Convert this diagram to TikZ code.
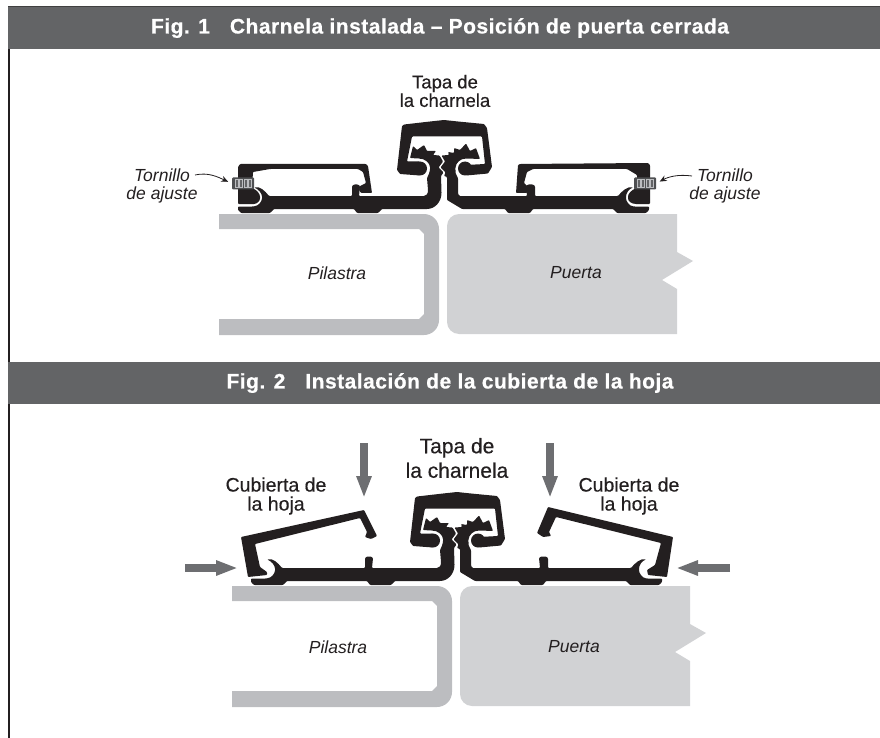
\documentclass[tikz,border=0pt]{standalone}
\usepackage{fontspec}
\setmainfont{Liberation Sans}
\newfontfamily\medfont[FakeBold=0.4]{Liberation Sans}
\newfontfamily\heavyfont[FakeBold=0.6,LetterSpace=2.3]{Liberation Sans Bold}
\usetikzlibrary{arrows.meta, positioning}
\definecolor{barcol}{HTML}{636466}
\definecolor{inkcol}{HTML}{231F20}
\definecolor{pilacol}{HTML}{BCBDC0}
\definecolor{doorcol}{HTML}{D1D2D4}
\definecolor{pushcol}{HTML}{6D6E71}
\tikzset{
  titlelabel/.style={text=white,inner sep=0pt,font=\heavyfont\fontsize{21}{22}\selectfont},
  partlabel/.style={text=inkcol,inner sep=0pt,align=center,font=\medfont\fontsize{18.5}{18.5}\selectfont},
  biglabel/.style={text=inkcol,inner sep=0pt,align=center,font=\medfont\fontsize{21}{24.5}\selectfont},
  coverlabel/.style={text=inkcol,inner sep=0pt,align=center,font=\medfont\fontsize{19.5}{19}\selectfont},
  thinlabel/.style={text=inkcol,inner sep=0pt,align=center,font=\itshape\fontsize{17.5}{18.5}\selectfont},
  profile/.style={fill=inkcol,rounded corners=0.8pt},
  screwbody/.style={fill=barcol!80!black,rounded corners=1pt,inner sep=0pt,minimum width=22pt,minimum height=12pt},
  thread/.style={draw=pilacol,fill=barcol,line width=0.5pt},
  pointer/.style={draw=inkcol,line width=0.8pt,-{Stealth[length=7pt,width=6pt]},shorten >=4pt},
  pushline/.style={draw=pushcol,line width=8pt,-{Triangle[length=22pt,width=14pt]}},
  hinge/.pic={
    % Hinge cap with its two knobs
    \fill[profile] (404,124.5) -- (430,121.5) -- (444,120) -- (458,121.5) -- (484,124) -- (487,128)
      -- (492,167) -- (488,173.5) -- (466,175.5) -- (466,165) -- (485,164) -- (482,136.5)
      -- (412,136.5) -- (407,161.5) -- (420,161.5) -- (420,175.5) -- (400,174) -- (397,170) -- (402,126) -- cycle;
    \fill[inkcol] (420,168.5) circle (7) (465,168.5) circle (7);
    % Left rail and gear
    \fill[profile] (238,206.5) -- (253,206.5) .. controls (259,206) and (262,201) .. (262,197.5)
      .. controls (262,193) and (258,189) .. (254,187.5) .. controls (260,186) and (265,191) .. (269,196)
      -- (352,196) -- (352,186) -- (354,184.5) -- (358,184.5) -- (360,186) -- (359,196) -- (423,196)
      .. controls (426,196) and (428,194) .. (428,190) -- (427,178)
      .. controls (428,176) and (430,172) .. (430,168) .. controls (430,163) and (425,158.5) .. (418,158.5)
      -- (410,158) -- (413,146) -- (417,150) -- (424,145) -- (427,151) -- (436,151) -- (433,155)
      -- (439.5,155.5) -- (443,161.5) -- (438.5,167.5) -- (443.5,172.5) -- (441,176) -- (441.5,192)
      .. controls (441.5,202) and (435,209) .. (426,209) -- (382,209) -- (378,213) -- (357,213)
      -- (354,209) -- (274,209) -- (270,213) -- (241,213) -- (238,210) -- cycle;
    % Right rail and gear
    \fill[profile] (649,206.5) -- (634,206.5) .. controls (629,206) and (626,201) .. (626,197.5)
      .. controls (626,193) and (629,189) .. (633,187.5) .. controls (628,186) and (622,191) .. (618,196)
      -- (535,196) -- (535,186) -- (533,184.5) -- (528,184.5) -- (526,186) -- (527,196) -- (461,196)
      .. controls (459,196) and (458,194) .. (458,192) -- (458,178)
      .. controls (456,175) and (455,172) .. (455.5,168) .. controls (456,163) and (460,158.5) .. (467,158.5)
      -- (480,159) -- (476,148) -- (470,151) -- (466,143.5) -- (460,150) -- (454,148) -- (454,153)
      -- (448,152) -- (449,155) -- (441.5,155.5) -- (445,161.5) -- (440.5,167.5) -- (445.5,172.5)
      -- (444,176) -- (447,177) -- (447,200) -- (462,209) -- (505,209) -- (508,213) -- (530,213)
      -- (533,209) -- (613,209) -- (617,213) -- (646,213) -- (649,210) -- cycle;
  }
}

\begin{document}
\begin{tikzpicture}[x=1pt,y=-1pt]
\useasboundingbox (0,0) rectangle (880,738);

% Draw frame line and title bars
\fill[inkcol] (8,7) rectangle (9.5,738);
\foreach \ya/\yb in {7/49,362/404}
    \fill[barcol] (8,\ya) rectangle (880,\yb);
\fill[black!75] (8,6.5) rectangle (880,7.5);
\node[titlelabel] (titleone) at (440,28) {Fig. 1\hspace{20pt}Charnela instalada – Posición de puerta cerrada};
\node[titlelabel] (titletwo) at (450,383) {Fig. 2\hspace{20pt}Instalación de la cubierta de la hoja};

% Draw jamb and door, both figures
\foreach \dx/\dy in {0/0,13/372} {
    \fill[pilacol,even odd rule] (219+\dx,214+\dy) -- (424+\dx,214+\dy) arc[start angle=90,end angle=0,radius=15pt]
       -- (439+\dx,320+\dy) arc[start angle=0,end angle=-90,radius=15pt] -- (219+\dx,335+\dy) -- (219+\dx,319+\dy)
       -- (419+\dx,319+\dy) -- (424+\dx,314+\dy) -- (424+\dx,234+\dy) -- (419+\dx,229+\dy) -- (219+\dx,229+\dy) -- cycle;
    \fill[doorcol] (677+\dx,214+\dy) -- (677+\dx,252+\dy) -- (693+\dx,261+\dy) -- (662+\dx,280+\dy) -- (677+\dx,289+\dy)
       -- (677+\dx,334+\dy) -- (459+\dx,334+\dy) arc[start angle=-90,end angle=-180,radius=12pt]
       -- (447+\dx,226+\dy) arc[start angle=180,end angle=90,radius=12pt] -- cycle;
}
\node[thinlabel] (pilaone) at (337,273) {Pilastra};
\node[thinlabel] (doorone) at (576,273) {Puerta};
\node[thinlabel] (pilatwo) at (338,647) {Pilastra};
\node[thinlabel] (doortwo) at (574,647) {Puerta};

% Draw hinge in both figures
\pic at (0,0) {hinge};
\pic at (13,372) {hinge};

% Leaf covers, fig. 1
\fill[profile] (238,167) -- (240,164) -- (366,164) -- (368,166) -- (372,193) -- (361,193) -- (359,190) -- (360,186)
   -- (366,183) -- (363,172) -- (358,169) -- (270,169) -- (253,172) -- (252,188)
   .. controls (257,190) and (260,194) .. (260,197.5) .. controls (260,201) and (257,204) .. (253,204) -- (238,204) -- cycle;
\fill[profile] (518,165) -- (520,164) -- (648,163) -- (650,165) -- (650,204) -- (637,204)
   .. controls (631,204) and (628,201) .. (628,197.5) .. controls (628,194) and (631,190) .. (637,188)
   -- (637,175) -- (627,169) -- (533,169) -- (527,172) -- (524,183) -- (528,187) -- (527,193) -- (516,193) -- cycle;

% Leaf covers, fig. 2
\fill[profile] (241,537) -- (364,510) -- (377,536) -- (371,539) -- (365,537) -- (367,532) -- (360,518) -- (255,544)
   -- (260,567) -- (267,572) -- (267,575) -- (248,577) -- cycle;
\fill[profile] (548,507) -- (673,537) -- (667,577) -- (648,575) -- (647,570) -- (655,565) -- (661,543) -- (556,517)
   -- (549,532) -- (551,536) -- (543,537) -- (537,533) -- cycle;

% Adjusting screws
\node[screwbody] (screwleft) at (243,183.5) {};
\node[screwbody] (screwright) at (645,183.5) {};
\foreach \x in {235,239.5,244,248.5}
    \draw[thread] (\x,179.5) rectangle (\x+3,187.5);
\foreach \x in {637,641.5,646,650.5}
    \draw[thread] (\x,179.5) rectangle (\x+3,187.5);

% Labels
\node[partlabel] (capone) at (445,91) {Tapa de\\la charnela};
\node[biglabel] (captwo) at (457,458) {Tapa de\\la charnela};
\node[coverlabel] (leafleft) at (276,496) {Cubierta de\\la hoja};
\node[coverlabel] (leafright) at (629,496) {Cubierta de\\la hoja};
\node[thinlabel] (screwtextleft) at (162,186) {Tornillo\\de ajuste};
\node[thinlabel] (screwtextright) at (725,186) {Tornillo\\de ajuste};

% Screw pointers
\coordinate (startleft) at (195,175);
\coordinate (startright) at (692,176);
\draw[pointer] (startleft) .. controls (208,172) and (218,177) .. (screwleft.west);
\draw[pointer] (startright) .. controls (678,174) and (668,177) .. (screwright.east);

% Push arrows, fig. 2
\foreach \name/\xa/\ya/\xb/\yb in {pushupl/364/443/364/498,pushupr/550/443/550/498,pushleft/185/568/238/568,pushright/730/568/676/568} {
    \coordinate (\name a) at (\xa,\ya);
    \coordinate (\name b) at (\xb,\yb);
    \draw[pushline] (\name a) -- (\name b);
}
\end{tikzpicture}
\end{document}
